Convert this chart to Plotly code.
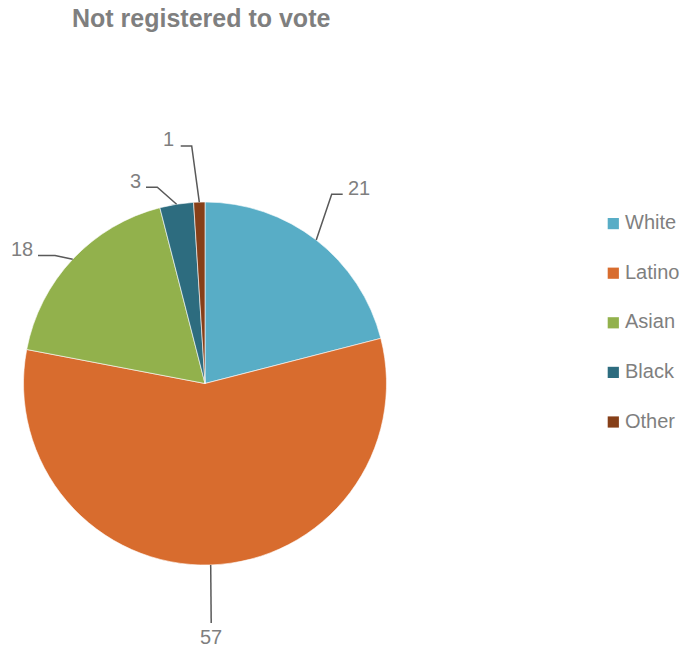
import math
import plotly.graph_objects as go

# ---- data ----
categories = ["White", "Latino", "Asian", "Black", "Other"]
values = [21, 57, 18, 3, 1]
slice_colors = ["#58ADC6", "#D86C2E", "#92B14C", "#2D6C7F", "#863F18"]

# ---- geometry (pixels) ----
W, H = 683, 649
CX, CY, R = 205.0, 383.5, 181.5
TEXT_GRAY = "#7F7F7F"
LINE_GRAY = "#595959"
FONT = "Liberation Sans, Arial, sans-serif"

# leader-line routing for each slice label: optional elbow, tail end, text anchor
label_routes = [
    dict(elbow=(331.7, 194.3), tail=(342.7, 194.3), text=(346.0, 187.5), xanchor="left"),
    dict(elbow=None, tail=(211.2, 623.0), text=(211.2, 637.0), xanchor="center"),
    dict(elbow=(55.0, 255.5), tail=(38.0, 255.5), text=(35.0, 249.0), xanchor="right"),
    dict(elbow=(157.3, 187.3), tail=(146.0, 187.3), text=(142.5, 181.0), xanchor="right"),
    dict(elbow=(191.7, 146.0), tail=(180.7, 146.0), text=(176.0, 139.0), xanchor="right"),
]

# legend placement
LEG_SQ_X, LEG_SQ = 607.7, 11.2
LEG_TEXT_X = 623.0
LEG_Y0, LEG_STEP = 223.6, 49.6


def px(x):
    return x / W


def py(y):
    return 1 - y / H


fig = go.Figure(
    go.Pie(
        labels=categories,
        values=values,
        sort=False,
        direction="clockwise",
        rotation=0,
        marker=dict(colors=slice_colors, line=dict(color="white", width=0.6)),
        textinfo="none",
        hoverinfo="label+value",
        showlegend=False,
        domain=dict(x=[px(CX - R), px(CX + R)], y=[py(CY + R), py(CY - R)]),
    )
)

shapes = []
annotations = []

# data labels with leader lines starting at each slice's mid-angle on the rim
total = sum(values)
cum = 0.0
for val, route in zip(values, label_routes):
    mid = (cum + val / 2) / total * 2 * math.pi
    cum += val
    ex = CX + R * math.sin(mid)
    ey = CY - R * math.cos(mid)
    pts = [(ex, ey)]
    if route["elbow"] is not None:
        pts.append(route["elbow"])
    pts.append(route["tail"])
    path = "M " + " L ".join(f"{px(x):.5f},{py(y):.5f}" for x, y in pts)
    shapes.append(dict(type="path", xref="paper", yref="paper", path=path,
                       line=dict(color=LINE_GRAY, width=1.5)))
    tx, ty = route["text"]
    annotations.append(dict(x=px(tx), y=py(ty), xref="paper", yref="paper",
                            text=str(val), showarrow=False,
                            xanchor=route["xanchor"], yanchor="middle",
                            font=dict(family=FONT, size=20, color=TEXT_GRAY)))

# legend: colour squares and category names
for i, (cat, col) in enumerate(zip(categories, slice_colors)):
    cy = LEG_Y0 + i * LEG_STEP
    shapes.append(dict(type="rect", xref="paper", yref="paper",
                       x0=px(LEG_SQ_X), x1=px(LEG_SQ_X + LEG_SQ),
                       y0=py(cy + LEG_SQ / 2), y1=py(cy - LEG_SQ / 2),
                       fillcolor=col, line=dict(width=0)))
    annotations.append(dict(x=px(LEG_TEXT_X), y=py(cy - 1.5), xref="paper", yref="paper",
                            text=cat, showarrow=False, xanchor="left", yanchor="middle",
                            font=dict(family=FONT, size=20, color=TEXT_GRAY)))

# chart title
annotations.append(dict(x=px(200.9), y=py(17.7), xref="paper", yref="paper",
                        text="<b>Not registered to vote</b>", showarrow=False,
                        xanchor="center", yanchor="middle",
                        font=dict(family=FONT, size=25, color=TEXT_GRAY)))

fig.update_layout(
    width=W,
    height=H,
    margin=dict(l=0, r=0, t=0, b=0),
    paper_bgcolor="white",
    plot_bgcolor="white",
    shapes=shapes,
    annotations=annotations,
)

fig.write_html("out.html")
